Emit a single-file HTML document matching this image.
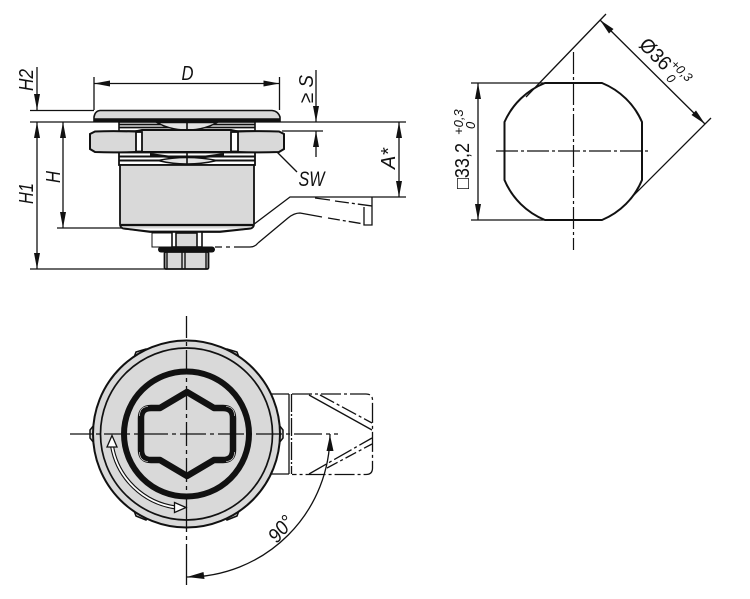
<!DOCTYPE html>
<html><head><meta charset="utf-8"><style>
html,body{margin:0;padding:0;background:#fff}
svg{display:block}
text{font-family:"Liberation Sans",sans-serif;font-style:italic;fill:#111}
</style></head><body>
<svg width="750" height="599" viewBox="0 0 750 599" xmlns="http://www.w3.org/2000/svg">
<g fill="none" stroke="#111" stroke-width="1.300">
<!-- side view dimensions -->
<path d="M37,67V110M37,122V269M30,110.5H94M30,122H406M30,269H167M57,228H122M63,122V228"/>
<path d="M94,77V110M279.5,77V110M94,83.5H279.5"/>
<path d="M316,70V122M316,131V157M282,131H323"/>
<path d="M399,122V197M313,197H406"/>
<path d="M266,141L297,172"/>
<!-- lever side -->
<path d="M253,225L290,197H313"/>
<path d="M315,198L330,200" />
<path d="M335,201L372,206" stroke-dasharray="14,3,3,3"/>
<path d="M372,197V225H364V207"/>
<path d="M258,243L288,218Q294,213 300,213L322,217"/>
<path d="M328,218L364,224" stroke-dasharray="12,3,3,3"/>
<path d="M215,247H222M226,247H230M234,247H250Q255,247 258,243"/>
</g>
<!-- side view part -->
<g stroke="#111" stroke-width="1.600">
<path d="M94,121V117Q95,111 100,110.5H272Q278,111 280,117V121Z" fill="#d9d9d9"/>
<path d="M94,119.5H280" stroke-width="2.600" fill="none"/>
<rect x="119" y="122" width="136" height="9" fill="#fff"/>
<path d="M119,124.5H255M119,127.5H255" fill="none" stroke-width="1.800"/>
<path d="M157,122.5H217Q204,130 187,130Q170,130 157,122.5Z" fill="#e4e4e4" stroke-width="1.500"/>
<path d="M187,122V130" fill="none"/>
<path d="M95,131.500Q112,130.800 135,131.500L142,130H231L238,131.500Q260,130.800 279,131.500L284,134V149L279,152Q260,152.800 238,152L231,152H142L135,152Q112,152.800 95,152L90,149V134Z" fill="#d9d9d9" stroke-width="2"/>
<rect x="136" y="132" width="6" height="19.500" fill="#fff" stroke-width="1.800"/>
<rect x="231" y="132" width="7" height="19.500" fill="#fff" stroke-width="1.800"/>
<rect x="119" y="152.5" width="136" height="12.5" fill="#fff" stroke-width="1.800"/>
<path d="M119,156.5H255M119,160.5H255" fill="none" stroke-width="2"/>
<path d="M150,153L187,158L224,153V156L187,160L150,156Z" fill="#111" stroke="none"/>
<path d="M158,160.500Q172,157.500 187,157.500Q202,157.500 217,160.500Q202,164 187,164Q172,164 158,160.500Z" fill="#e4e4e4" stroke-width="1.500"/>
<path d="M187,152V165" fill="none"/>
<path d="M120,165H254V224Q254,229 247,229L220,232H150L127,229Q120,229 120,224Z" fill="#d9d9d9" stroke-width="1.800"/>
<path d="M121,225H253" fill="none" stroke-width="2.200"/>
<path d="M124,228.5L150,231.5H220L250,228.5" fill="#fff" stroke-width="1.800"/>
<rect x="152" y="233" width="20" height="14" fill="#fff" stroke-width="1"/>
<rect x="172" y="232" width="30" height="15" fill="#fff" stroke-width="1.600"/>
<rect x="176" y="233" width="21" height="14" fill="#d9d9d9" stroke-width="1.600"/>
<rect x="164.500" y="252" width="44" height="17" rx="1.500" fill="#d9d9d9" stroke-width="1.800"/>
<path d="M182,252V269M185,252V269M167,252V269M206,252V269" fill="none" stroke-width="1.400"/>
<rect x="158" y="246.500" width="57" height="6" rx="3" fill="#111" stroke="none"/>
</g>
<!-- side arrowheads -->
<g fill="#111" stroke="none">
<path d="M37,110L34,94H40Z"/><path d="M37,122L34,138H40Z"/><path d="M37,269L34,253H40Z"/>
<path d="M63,122L60,138H66Z"/><path d="M63,228L60,212H66Z"/>
<path d="M94,83.5L110,80.5V86.5Z"/><path d="M279.500,83.5L263.500,80.5V86.5Z"/>
<path d="M316,122L313,106H319Z"/><path d="M316,131L313,147H319Z"/>
<path d="M399,122L396,138H402Z"/><path d="M399,197L396,181H402Z"/>
</g>
<!-- side text -->
<text transform="translate(33,91) rotate(-90)" font-size="20" textLength="22" lengthAdjust="spacingAndGlyphs">H2</text>
<text transform="translate(33,204) rotate(-90)" font-size="20" textLength="21" lengthAdjust="spacingAndGlyphs">H1</text>
<text transform="translate(60,183) rotate(-90)" font-size="20" textLength="12" lengthAdjust="spacingAndGlyphs">H</text>
<text x="181.500" y="80" font-size="20" textLength="12" lengthAdjust="spacingAndGlyphs">D</text>
<text x="298.500" y="186" font-size="21" textLength="26" lengthAdjust="spacingAndGlyphs">SW</text>
<text transform="translate(313,103) rotate(-90)" font-size="20" textLength="28" lengthAdjust="spacingAndGlyphs">≥ S</text>
<text transform="translate(395,169) rotate(-90)" font-size="20" textLength="21" lengthAdjust="spacingAndGlyphs">A*</text>

<!-- right view -->
<g fill="none" stroke="#111">
<path d="M545,83H602A74,74 0 0 1 642,122V180A74,74 0 0 1 602,220H545A74,74 0 0 1 504.500,180V122A74,74 0 0 1 545,83Z" stroke-width="2"/>
<path d="M573.500,52V250" stroke-width="1.200" stroke-dasharray="22,3,3,3"/>
<path d="M496,151H651" stroke-width="1.200" stroke-dasharray="22,3,3,3"/>
<g stroke-width="1.300">
<path d="M606,14L526,97M711,118L634,195M600,20L705,124"/>
<path d="M471,83H545M471,220H545M478,83V220"/>
</g>
</g>
<g fill="#111" stroke="none">
<path d="M478,83L475,99H481Z"/><path d="M478,220L475,204H481Z"/>
<path d="M600,20L609,33.500L613.500,29Z"/><path d="M705,124L691.500,115L696,110.500Z"/>
</g>
<text transform="translate(469,189) rotate(-90)" font-size="20" textLength="46" lengthAdjust="spacingAndGlyphs" style="font-style:normal">□33,2</text>
<text transform="translate(463,135) rotate(-90)" font-size="13">+0,3</text>
<text transform="translate(475,129) rotate(-90)" font-size="13">0</text>
<text transform="translate(638,46) rotate(45)" font-size="20" textLength="36" lengthAdjust="spacingAndGlyphs" style="font-style:normal">Ø36</text>
<text transform="translate(670,65) rotate(45)" font-size="12.500">+0,3</text>
<text transform="translate(665.500,79) rotate(45)" font-size="12.500">0</text>

<!-- lever top -->
<g fill="none" stroke="#111" stroke-width="1.300">
<path d="M271,394H289M271,474H289"/>
<path d="M289,394V474" /><path d="M291.500,394V474" stroke-dasharray="18,2,2,2"/>
<path d="M292,394H366Q372.500,394 372.500,400V468Q372.500,474.500 366,474.500H292" stroke-dasharray="20,3,3,3"/>
<path d="M309,395L372,430"/>
<path d="M320,395L372,423" stroke-dasharray="16,3,3,3"/>
<path d="M309,474L372,438" stroke-dasharray="20,3,3,3"/>
<path d="M327,468L372,444" stroke-dasharray="12,3,3,3"/>
</g>
<!-- top view -->
<g stroke="#111">
<g fill="#d9d9d9" stroke-width="1.500">
<path d="M133,360L136,352L146,349L150,356Z"/>
<path d="M240,360L237,352L227,349L223,356Z"/>
<path d="M133,508L136,516L146,520L150,512Z"/>
<path d="M240,508L237,516L227,520L223,512Z"/>
<path d="M94,425L90,430V438L94,443Z"/>
<path d="M279,425L283,430V438L279,443Z"/>
</g>
<circle cx="186.500" cy="434" r="93.500" fill="#d9d9d9" stroke-width="2"/>
<circle cx="186.500" cy="434" r="86" fill="#d9d9d9" stroke-width="1.700"/>
<circle cx="186.500" cy="434" r="62.500" fill="#d9d9d9" stroke-width="6"/>
<path d="M187,392L214,408H223Q233,408 233,418V450Q233,460 223,460H214L187,476L160,460H151Q141,460 141,450V418Q141,408 151,408H160Z" fill="#d9d9d9" stroke-width="6.500" stroke-linejoin="round"/>
<path d="M226,406.500Q234.500,407 234.500,416M148,406.500Q139.500,407 139.500,416M226,461.500Q234.500,461 234.500,452M148,461.500Q139.500,461 139.500,452" fill="none" stroke="#fff" stroke-width=".6"/>
<path d="M186.500,316V338M186.500,342V346M186.500,350V374M186.500,378V382M186.500,386V410M186.500,414V418M186.500,422V446M186.500,450V454M186.500,458V482M186.500,486V490M186.500,494V532M186.500,536V540M186.500,544V585" fill="none" stroke-width="1.300"/>
<path d="M70,434H92M96,434H100M104,434H130M134,434H138M142,434H168M172,434H176M180,434H206M210,434H214M218,434H244M248,434H252M256,434H282M286,434H290M294,434H322M326,434H330M334,434H338" fill="none" stroke-width="1.300"/>
<!-- rotation arrow -->
<path d="M112,446A75,75 0 0 0 176,507.500" fill="none" stroke-width="4"/>
<path d="M112,446A75,75 0 0 0 176,507.500" fill="none" stroke="#fff" stroke-width="1.800"/>
<path d="M112,435.500L107,447H117Z" fill="#fff" stroke-width="1.300"/>
<path d="M186,507.500L174.500,502.500V512.500Z" fill="#fff" stroke-width="1.300"/>
<path d="M187,577A143,143 0 0 0 330,434" fill="none" stroke-width="1.300"/>
</g>
<g fill="#111" stroke="none">
<path d="M330,435L326.500,451H333.500Z"/><path d="M187,577L203.500,572L204.500,579Z"/>
</g>
<text transform="translate(277,544) rotate(-50)" font-size="20" textLength="28" lengthAdjust="spacingAndGlyphs">90°</text>
</svg>
</body></html>
